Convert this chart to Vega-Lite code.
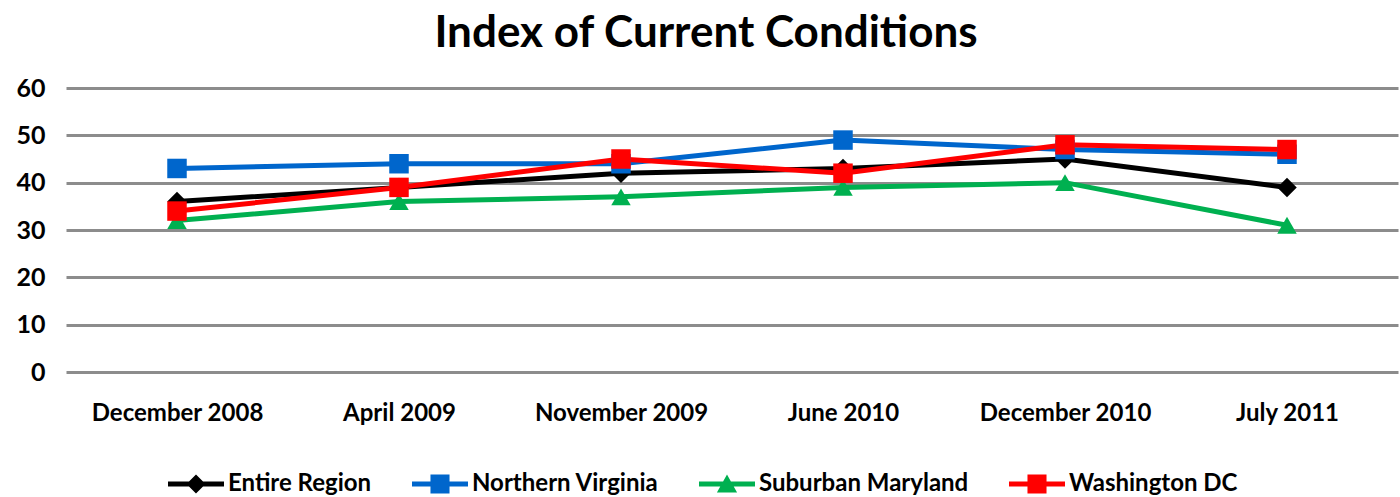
{
  "$schema": "https://vega.github.io/schema/vega-lite/v6.json",
  "width": 1332,
  "height": 284,
  "autosize": "none",
  "padding": {"left": 66, "top": 88, "right": 2, "bottom": 125},
  "background": "white",
  "title": {"text": "Index of Current Conditions", "font": "Lato", "fontSize": 44, "fontWeight": "bold", "color": "#000000", "anchor": "middle", "offset": 20, "dx": -26},
  "config": {"view": {"stroke": null}},
  "data": {"values": [
    {"period": "December 2008", "series": "Entire Region", "value": 36},
    {"period": "April 2009", "series": "Entire Region", "value": 39},
    {"period": "November 2009", "series": "Entire Region", "value": 42},
    {"period": "June 2010", "series": "Entire Region", "value": 43},
    {"period": "December 2010", "series": "Entire Region", "value": 45},
    {"period": "July 2011", "series": "Entire Region", "value": 39},
    {"period": "December 2008", "series": "Northern Virginia", "value": 43},
    {"period": "April 2009", "series": "Northern Virginia", "value": 44},
    {"period": "November 2009", "series": "Northern Virginia", "value": 44},
    {"period": "June 2010", "series": "Northern Virginia", "value": 49},
    {"period": "December 2010", "series": "Northern Virginia", "value": 47},
    {"period": "July 2011", "series": "Northern Virginia", "value": 46},
    {"period": "December 2008", "series": "Suburban Maryland", "value": 32},
    {"period": "April 2009", "series": "Suburban Maryland", "value": 36},
    {"period": "November 2009", "series": "Suburban Maryland", "value": 37},
    {"period": "June 2010", "series": "Suburban Maryland", "value": 39},
    {"period": "December 2010", "series": "Suburban Maryland", "value": 40},
    {"period": "July 2011", "series": "Suburban Maryland", "value": 31},
    {"period": "December 2008", "series": "Washington DC", "value": 34},
    {"period": "April 2009", "series": "Washington DC", "value": 39},
    {"period": "November 2009", "series": "Washington DC", "value": 45},
    {"period": "June 2010", "series": "Washington DC", "value": 42},
    {"period": "December 2010", "series": "Washington DC", "value": 48},
    {"period": "July 2011", "series": "Washington DC", "value": 47}
  ]},
  "encoding": {
    "x": {
      "field": "period", "type": "ordinal",
      "sort": ["December 2008", "April 2009", "November 2009", "June 2010", "December 2010", "July 2011"],
      "scale": {"type": "point", "padding": 0.5},
      "axis": {"title": null, "labelAngle": 0, "domain": false, "ticks": false, "grid": false, "labelFont": "Lato", "labelFontSize": 24, "labelFontWeight": "bold", "labelColor": "#000000", "labelPadding": 29}
    },
    "y": {
      "field": "value", "type": "quantitative",
      "scale": {"domain": [0, 60], "nice": false},
      "axis": {"title": null, "values": [0, 10, 20, 30, 40, 50, 60], "domain": false, "ticks": false, "grid": true, "gridColor": "#8c8c8c", "gridWidth": 3, "labelFont": "Lato", "labelFontSize": 25, "labelFontWeight": "bold", "labelColor": "#000000", "labelPadding": 21}
    },
    "color": {
      "field": "series", "type": "nominal",
      "scale": {"domain": ["Entire Region", "Northern Virginia", "Suburban Maryland", "Washington DC"], "range": ["#000000", "#0066CC", "#00B050", "#FF0000"]},
      "legend": {
        "title": null, "orient": "none", "direction": "horizontal", "legendX": 102, "legendY": 368,
        "symbolType": "square",
        "symbolSize": 3136, "symbolStrokeWidth": 0, "labelFont": "Lato", "labelFontSize": 24, "labelFontWeight": "bold", "labelColor": "#000000", "labelLimit": 500,
        "labelOffset": 4, "columnPadding": 40,
        "encode": {"symbols": {"update": {
          "shape": {"signal": "datum.value === 'Entire Region' ? 'M-1,-0.09L1,-0.09L1,0.09L-1,0.09Z M0,-0.34L0.34,0L0,0.34L-0.34,0Z' : datum.value === 'Suburban Maryland' ? 'M-1,-0.09L1,-0.09L1,0.09L-1,0.09Z M0,-0.34L0.36,0.3L-0.36,0.3Z' : 'M-1,-0.09L1,-0.09L1,0.09L-1,0.09Z M-0.34,-0.34L0.34,-0.34L0.34,0.34L-0.34,0.34Z'"},
          "fill": {"signal": "scale('color', datum.value)"},
          "fillOpacity": {"value": 1},
          "stroke": {"value": "transparent"},
          "opacity": {"value": 1}
        }}}
      }
    }
  },
  "layer": [
    {"mark": {"type": "line", "strokeWidth": 5}},
    {
      "transform": [{"filter": "datum.series === 'Entire Region'"}],
      "mark": {"type": "point", "filled": true, "opacity": 1, "size": 380, "shape": "diamond"}
    },
    {
      "transform": [{"filter": "datum.series === 'Suburban Maryland'"}],
      "mark": {"type": "point", "filled": true, "opacity": 1, "size": 380, "shape": "triangle-up"}
    },
    {
      "transform": [{"filter": "datum.series === 'Northern Virginia' || datum.series === 'Washington DC'"}],
      "mark": {"type": "point", "filled": true, "opacity": 1, "size": 380, "shape": "square"}
    }
  ]
}
